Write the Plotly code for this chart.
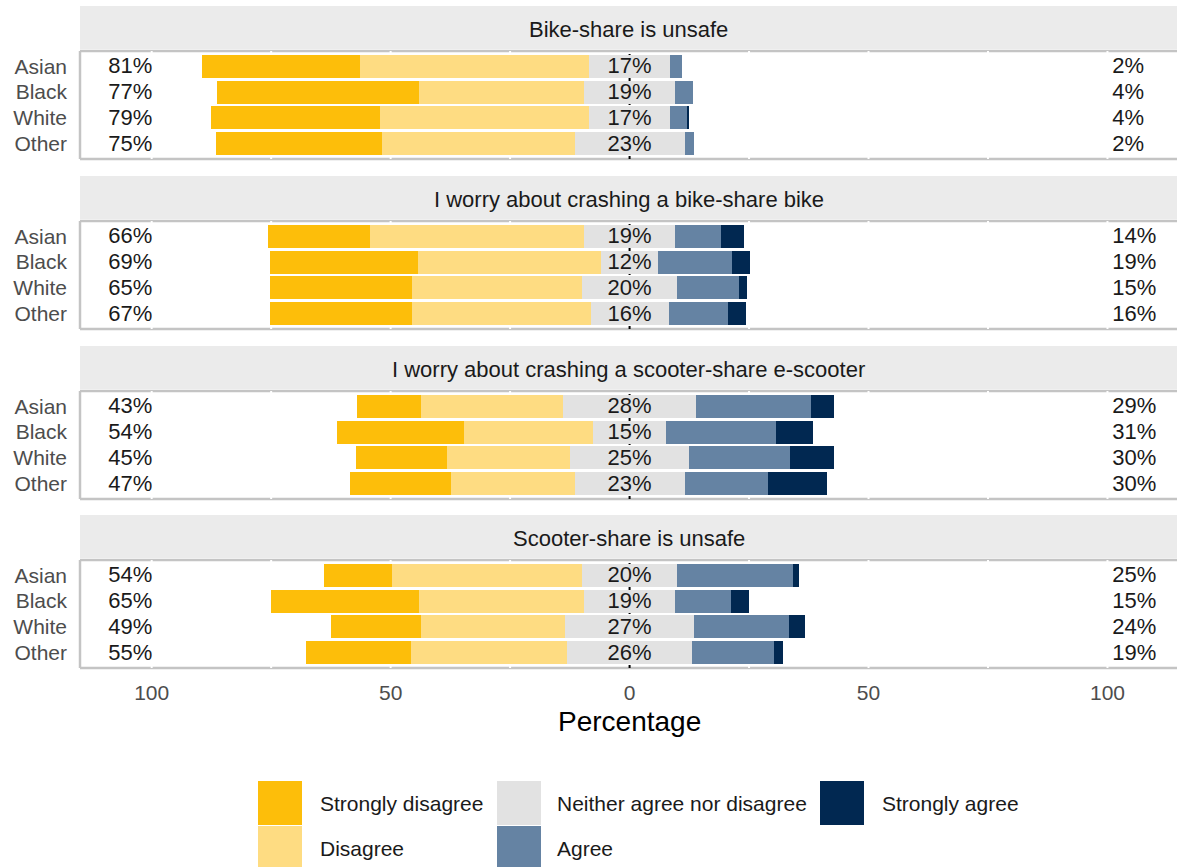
import plotly.graph_objects as go

# ---------------- data ----------------
panels = ["Bike-share is unsafe",
          "I worry about crashing a bike-share bike",
          "I worry about crashing a scooter-share e-scooter",
          "Scooter-share is unsafe"]
groups = ["Asian", "Black", "White", "Other"]
levels = ["Strongly disagree", "Disagree", "Neither agree nor disagree", "Agree", "Strongly agree"]
colors = ["#FDBE0A", "#FEDC82", "#E2E2E2", "#6583A3", "#012851"]

strongly_disagree = [[33.0, 42.4, 35.3, 34.7],
                     [21.4, 31.0, 29.7, 29.7],
                     [13.4, 26.6, 19.0, 21.1],
                     [14.3, 31.0, 18.8, 22.1]]
disagree = [[47.9, 34.5, 43.8, 40.4],
            [44.8, 38.3, 35.6, 37.4],
            [29.6, 27.1, 25.7, 25.8],
            [39.7, 34.4, 30.2, 32.7]]
neutral = [[17.0, 19.0, 17.0, 23.0],
           [19.0, 12.0, 20.0, 16.3],
           [28.0, 15.2, 25.0, 23.0],
           [20.0, 19.2, 27.0, 26.0]]
agree = [[2.5, 3.8, 3.6, 2.0],
         [9.7, 15.4, 12.9, 12.4],
         [23.9, 23.0, 21.0, 17.4],
         [24.2, 11.6, 19.8, 17.3]]
strongly_agree = [[0.0, 0.0, 0.4, 0.0],
                  [4.8, 3.8, 1.6, 3.8],
                  [4.8, 7.7, 9.3, 12.4],
                  [1.2, 3.8, 3.5, 1.8]]

left_labels = [["81%", "77%", "79%", "75%"],
               ["66%", "69%", "65%", "67%"],
               ["43%", "54%", "45%", "47%"],
               ["54%", "65%", "49%", "55%"]]
mid_labels = [["17%", "19%", "17%", "23%"],
              ["19%", "12%", "20%", "16%"],
              ["28%", "15%", "25%", "23%"],
              ["20%", "19%", "27%", "26%"]]
right_labels = [["2%", "4%", "4%", "2%"],
                ["14%", "19%", "15%", "16%"],
                ["29%", "31%", "30%", "30%"],
                ["25%", "15%", "24%", "19%"]]

x_tickvals = [-100, -50, 0, 50, 100]
x_ticktext = ["100", "50", "0", "50", "100"]
grid_vals = [-100, -75, -50, -25, 25, 50, 75, 100]

# ---------------- layout helpers ----------------
W, H = 1177, 867
FONT = "Liberation Sans, Arial, sans-serif"
def px(x): return x / W
def py(y): return 1 - y / H

panel_tops = [51, 221, 391, 560]
panel_h = 108
panel_left = 80
border_col = "#C4C4C4"
strip_col = "#EBEBEB"
TXT = "#1A1A1A"

fig = go.Figure()
rows = [0, 1, 2, 3]
text_rows = [r + 0.06 for r in rows]
shapes = []
annotations = []

for p in range(4):
    ax = "" if p == 0 else str(p + 1)
    xa, ya = "x" + ax, "y" + ax
    sd, d, n, a, sa = (strongly_disagree[p], disagree[p], neutral[p],
                       agree[p], strongly_agree[p])
    widths = [sd, d, n, a, sa]
    bases = [
        [-(n[i] / 2 + d[i] + sd[i]) for i in range(4)],
        [-(n[i] / 2 + d[i]) for i in range(4)],
        [-n[i] / 2 for i in range(4)],
        [n[i] / 2 for i in range(4)],
        [n[i] / 2 + a[i] for i in range(4)],
    ]
    for k in range(5):
        fig.add_trace(go.Bar(
            orientation="h", y=rows, x=widths[k], base=bases[k],
            width=0.9, marker=dict(color=colors[k], line=dict(width=0)),
            xaxis=xa, yaxis=ya, showlegend=False, hoverinfo="skip"))
    fig.add_trace(go.Scatter(x=[-104.5] * 4, y=text_rows, mode="text", text=left_labels[p],
                             textposition="middle center",
                             textfont=dict(size=22, color=TXT, family=FONT),
                             xaxis=xa, yaxis=ya, showlegend=False, hoverinfo="skip"))
    fig.add_trace(go.Scatter(x=[0] * 4, y=text_rows, mode="text", text=mid_labels[p],
                             textposition="middle center",
                             textfont=dict(size=22, color=TXT, family=FONT),
                             xaxis=xa, yaxis=ya, showlegend=False, hoverinfo="skip"))
    fig.add_trace(go.Scatter(x=[101.0] * 4, y=text_rows, mode="text", text=right_labels[p],
                             textposition="middle right",
                             textfont=dict(size=22, color=TXT, family=FONT),
                             xaxis=xa, yaxis=ya, showlegend=False, hoverinfo="skip"))

    top = panel_tops[p]
    bot = top + panel_h
    fig.update_layout(**{
        ("xaxis" + ax): dict(domain=[px(panel_left), 1], range=[-115, 114.55],
                             anchor=ya, tickvals=x_tickvals, ticktext=x_ticktext,
                             showticklabels=(p == 3), ticks="",
                             ticklabelstandoff=10,
                             tickfont=dict(size=21, color="#4D4D4D", family=FONT),
                             showgrid=False, zeroline=False, showline=False,
                             fixedrange=True),
        ("yaxis" + ax): dict(domain=[py(bot), py(top)], range=[3.6, -0.6],
                             anchor=xa, tickvals=rows, ticktext=groups, ticks="",
                             ticklabelstandoff=12,
                             tickfont=dict(size=21, color="#4D4D4D", family=FONT),
                             showgrid=False, zeroline=False, showline=False,
                             fixedrange=True),
    })
    # panel border
    for (x0, y0, x1, y1) in [(0, 1, 1, 1), (0, 0, 1, 0), (0, 0, 0, 1)]:
        shapes.append(dict(type="line", xref=xa + " domain", yref=ya + " domain",
                           x0=x0, y0=y0, x1=x1, y1=y1, layer="below",
                           line=dict(color=border_col, width=2.5)))
    # white grid lines (only visible where they cut the border)
    for gv in grid_vals:
        shapes.append(dict(type="line", xref=xa, yref=ya + " domain",
                           x0=gv, x1=gv, y0=0, y1=1, layer="below",
                           line=dict(color="white", width=2)))
    # dotted zero line (under the bars)
    shapes.append(dict(type="line", xref=xa, yref=ya + " domain", x0=0, x1=0,
                       y0=0, y1=1, layer="below",
                       line=dict(color="black", width=2, dash="3px,3px")))
    # strip
    shapes.append(dict(type="rect", xref="paper", yref="paper",
                       x0=px(panel_left), x1=1, y0=py(top - 2), y1=py(top - 45),
                       fillcolor=strip_col, line=dict(width=0), layer="below"))
    annotations.append(dict(text=panels[p], xref="paper", yref="paper",
                            x=px((panel_left + W) / 2), y=py(top - 22),
                            xanchor="center", yanchor="middle", showarrow=False,
                            font=dict(size=22, color=TXT, family=FONT)))

# axis title
annotations.append(dict(text="Percentage", xref="paper", yref="paper",
                        x=px(629.5), y=py(721), xanchor="center", yanchor="middle",
                        showarrow=False, font=dict(size=28, color="black", family=FONT)))

# manual legend (column-major like the reference)
legend_pos = [(258, 781, 318), (258, 826, 318), (497, 781, 555), (497, 826, 555), (820, 781, 880)]
for k, (lx, ly, tx) in enumerate(legend_pos):
    shapes.append(dict(type="rect", xref="paper", yref="paper",
                       x0=px(lx), x1=px(lx + 44), y0=py(ly + 44), y1=py(ly),
                       fillcolor=colors[k], line=dict(width=0), layer="above"))
    annotations.append(dict(text=levels[k], xref="paper", yref="paper",
                            x=px(tx), y=py(ly + 22), xanchor="left", yanchor="middle",
                            showarrow=False,
                            font=dict(size=21, color=TXT, family=FONT)))

fig.update_layout(
    width=W, height=H, autosize=False,
    margin=dict(l=0, r=0, t=0, b=0),
    paper_bgcolor="white", plot_bgcolor="white",
    barmode="overlay", bargap=0,
    shapes=shapes, annotations=annotations,
    font=dict(family=FONT),
)

fig.write_html("out.html", config={"displayModeBar": False},
               post_script="document.body.style.margin='0';document.body.style.overflow='hidden';")
